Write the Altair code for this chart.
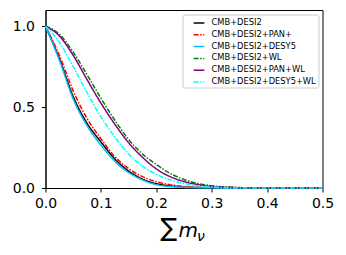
import altair as alt
import pandas as pd

# x grid (sum of neutrino masses)
xs = [0.0, 0.025, 0.05, 0.075, 0.1, 0.125, 0.15, 0.175, 0.2, 0.225, 0.25, 0.275, 0.3, 0.35, 0.4, 0.5]

labels = ["CMB+DESI2", "CMB+DESI2+PAN+", "CMB+DESI2+DESY5",
          "CMB+DESI2+WL", "CMB+DESI2+PAN+WL", "CMB+DESI2+DESY5+WL"]
colors = ["black", "red", "#00bfff", "green", "purple", "cyan"]
dashes = [[1, 0], [5, 1.5, 1.5, 1.5], [1, 0], [5, 1.5, 1.5, 1.5], [1, 0], [5, 1.5, 1.5, 1.5]]

desi2 = [1.0, 0.80, 0.565, 0.40, 0.285, 0.18, 0.105, 0.055, 0.027, 0.013, 0.006, 0.003, 0.001, 0.0, 0.0, 0.0]
desi2_pan = [1.0, 0.82, 0.60, 0.43, 0.305, 0.195, 0.12, 0.07, 0.039, 0.02, 0.01, 0.005, 0.002, 0.0005, 0.0, 0.0]
desi2_desy5 = [1.0, 0.79, 0.55, 0.385, 0.265, 0.165, 0.095, 0.05, 0.02, 0.009, 0.004, 0.002, 0.001, 0.0, 0.0, 0.0]
desi2_wl = [1.0, 0.95, 0.84, 0.70, 0.555, 0.42, 0.30, 0.21, 0.145, 0.09, 0.053, 0.028, 0.014, 0.003, 0.0, 0.0]
desi2_pan_wl = [1.0, 0.94, 0.82, 0.67, 0.525, 0.395, 0.28, 0.19, 0.118, 0.07, 0.04, 0.021, 0.01, 0.002, 0.0, 0.0]
desi2_desy5_wl = [1.0, 0.90, 0.75, 0.59, 0.44, 0.315, 0.21, 0.135, 0.085, 0.05, 0.028, 0.014, 0.007, 0.001, 0.0, 0.0]

series = [desi2, desi2_pan, desi2_desy5, desi2_wl, desi2_pan_wl, desi2_desy5_wl]

rows = []
for lab, vals in zip(labels, series):
    for i, (x, y) in enumerate(zip(xs, vals)):
        rows.append({"mnu": x, "P": y, "set": lab, "i": i})
df = pd.DataFrame(rows)

FONT = "DejaVu Sans"

lines = alt.Chart(df).mark_line(strokeWidth=1.5, interpolate="monotone").encode(
    x=alt.X("mnu:Q", scale=alt.Scale(domain=[0, 0.5], nice=False),
            axis=alt.Axis(values=[0, 0.1, 0.2, 0.3, 0.4, 0.5], format=".1f", title=None,
                          labelFlush=False)),
    y=alt.Y("P:Q", scale=alt.Scale(domain=[0, 1.1], nice=False),
            axis=alt.Axis(values=[0, 0.5, 1.0], format=".1f", title=None)),
    color=alt.Color("set:N", scale=alt.Scale(domain=labels, range=colors),
                    legend=alt.Legend(title=None, orient="none", legendX=137, legendY=4.5,
                                      symbolType="stroke", symbolSize=115, symbolStrokeWidth=1.5,
                                      labelFont=FONT, labelFontSize=8.3, labelColor="black",
                                      labelOffset=6, symbolOffset=8, rowPadding=1.8,
                                      padding=2, fillColor="white", strokeColor="#cccccc",
                                      cornerRadius=2, labelLimit=200)),
    strokeDash=alt.StrokeDash("set:N", scale=alt.Scale(domain=labels, range=dashes), legend=None),
    order="i:Q",
    detail="set:N",
)

t_sigma = alt.Chart(pd.DataFrame({"t": ["∑"]})).mark_text(
    font=FONT, fontSize=25, align="left", baseline="alphabetic", color="black"
).encode(x=alt.value(115), y=alt.value(226), text="t:N")
t_m = alt.Chart(pd.DataFrame({"t": ["m"]})).mark_text(
    font=FONT, fontSize=20, fontStyle="italic", align="left", baseline="alphabetic", color="black"
).encode(x=alt.value(133), y=alt.value(226.5), text="t:N")
t_nu = alt.Chart(pd.DataFrame({"t": ["ν"]})).mark_text(
    font=FONT, fontSize=14, fontStyle="italic", align="left", baseline="alphabetic", color="black"
).encode(x=alt.value(151.5), y=alt.value(230.5), text="t:N")

chart = alt.layer(lines, t_sigma, t_m, t_nu).properties(
    width=277, height=178,
    autosize=alt.AutoSizeParams(type="none"),
    padding={"left": 37.5, "top": 2, "right": 15, "bottom": 59},
).configure_view(
    stroke="black", strokeWidth=1
).configure_axis(
    grid=False, domainColor="black", tickColor="black", tickSize=4,
    labelFont=FONT, labelFontSize=14, labelColor="black", labelPadding=4,
).configure_axisY(labelPadding=7)

chart.save("out.html", embed_options={"renderer": "svg", "actions": False})
